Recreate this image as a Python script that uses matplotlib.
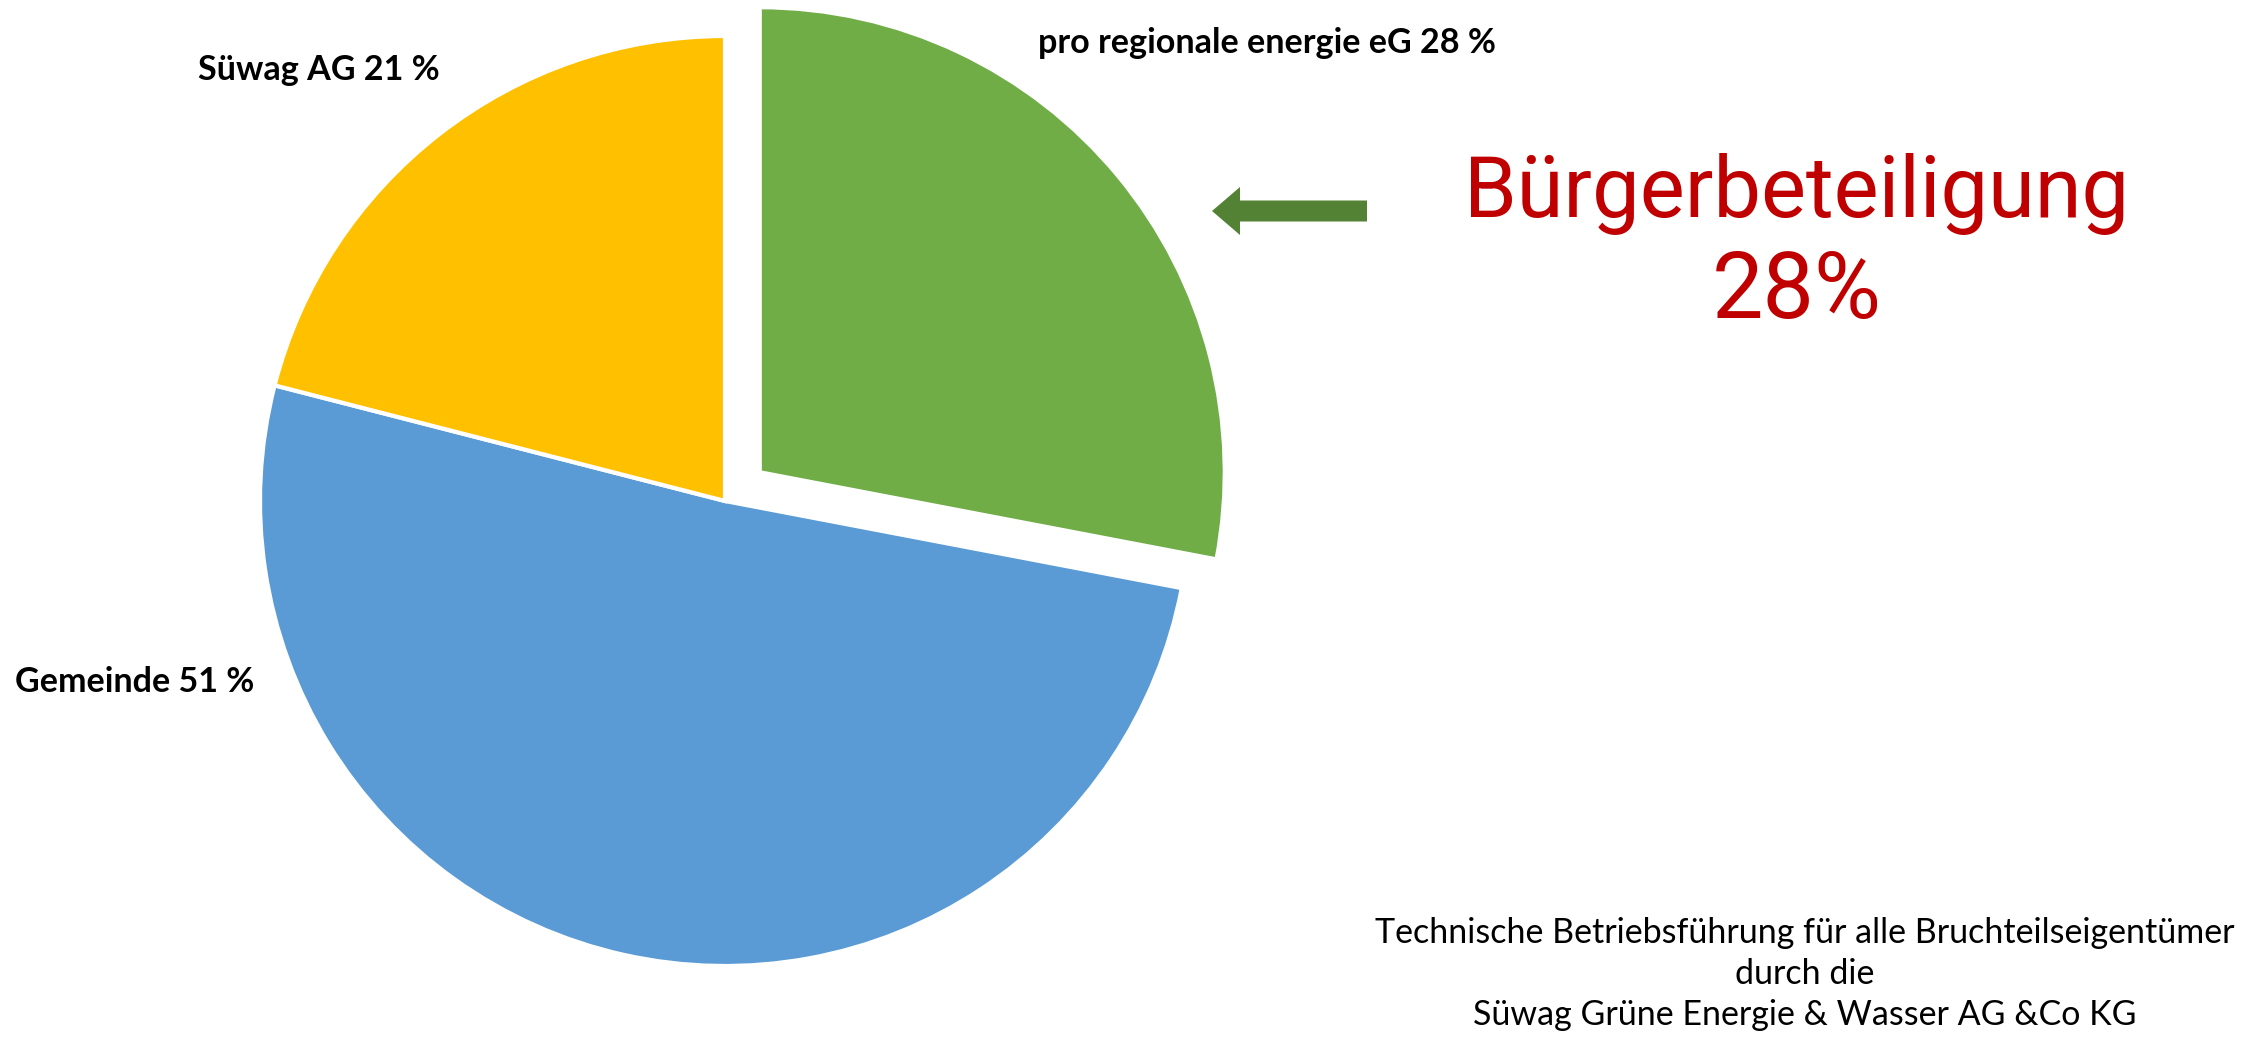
import matplotlib.pyplot as plt

# Anteile am Windpark
labels = ['pro regionale energie eG 28 %', 'Gemeinde 51 %', 'Süwag AG 21 %']
shares = [28, 51, 21]
colors = ['#70AD47', '#5B9BD5', '#FFC000']
explode = [0.097, 0, 0]   # Anteil des Radius

W, H = 2268, 1039
R = 465

fig = plt.figure(figsize=(W / 100, H / 100), dpi=100)
ax = fig.add_axes([0, 0, 1, 1])

# explode wird von pie in Dateneinheiten genommen -> mit Radius skalieren
ax.pie(shares, colors=colors, explode=[e * R for e in explode], startangle=90,
       counterclock=False, center=(725, H - 501), radius=R, frame=True,
       wedgeprops=dict(edgecolor='white', linewidth=3))
ax.set_xlim(0, W)
ax.set_ylim(0, H)
ax.set_aspect('equal')
ax.axis('off')

lab_font = dict(family=['Lato', 'DejaVu Sans'], fontsize=24.6, fontweight='bold', color='black')
ax.text(1038, H - 43, labels[0], ha='left', va='center', **lab_font)
ax.text(15, H - 682, labels[1], ha='left', va='center', **lab_font)
ax.text(198, H - 70, labels[2], ha='left', va='center', **lab_font)

# Pfeil auf das grüne Stück
ax.arrow(1367, H - 211, -155, 0, width=21, head_width=48, head_length=28,
         length_includes_head=True, color='#548235', linewidth=0)

hand = dict(family=['Roboto', 'DejaVu Sans'], color='#C00000', ha='center')
ax.text(1797, H - 217, 'Bürgerbeteiligung', fontsize=61, va='baseline', **hand)
ax.text(1797, H - 318, '28%', fontsize=66, va='baseline', **hand)

note = ('Technische Betriebsführung für alle Bruchteilseigentümer\n'
        'durch die\n'
        'Süwag Grüne Energie & Wasser AG &Co KG')
ax.text(1805, H - 974, note, ha='center', va='center', fontsize=24.5,
        family=['Lato', 'DejaVu Sans'], linespacing=1.33)

fig.savefig('out.png', dpi=100)
